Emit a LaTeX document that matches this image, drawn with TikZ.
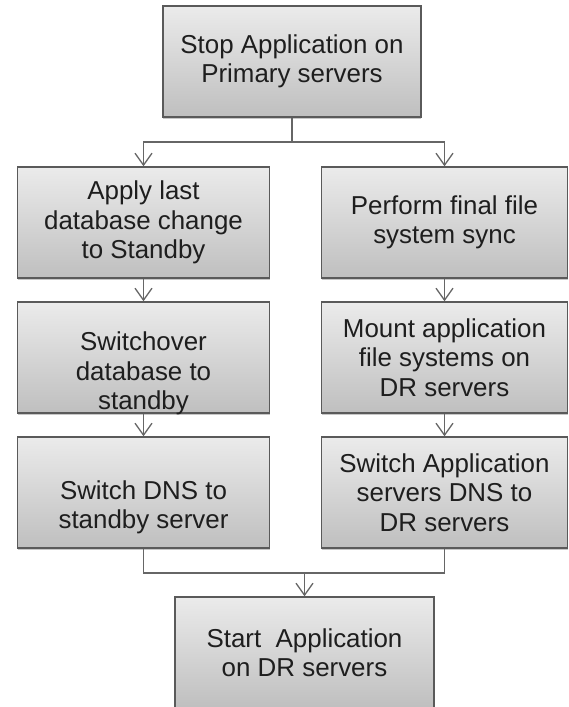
\documentclass[tikz,border=0pt]{standalone}
\usepackage{fontspec}
\setmainfont{Liberation Sans}
\usetikzlibrary{arrows.meta,shadows,positioning}
\definecolor{boxtop}{HTML}{EBEBEB}
\definecolor{boxbot}{HTML}{BFBFBF}
\definecolor{boxedge}{HTML}{5A5A5A}
\definecolor{lineclr}{HTML}{666666}
\definecolor{txtclr}{HTML}{1E1E1E}
\tikzset{
  flowbox/.style={draw=boxedge, line width=1.4pt, top color=boxtop, bottom color=boxbot,
    rectangle, minimum height=111pt, inner sep=0pt, align=center,
    font=\fontsize{25.9}{29.5}\selectfont, text=txtclr,
    drop shadow={shadow xshift=0pt, shadow yshift=-2pt, opacity=0.22, fill=black}},
  flowtxt/.style={align=center, inner sep=0pt, font=\fontsize{25.9}{29.5}\selectfont, text=txtclr},
  conn/.style={draw=lineclr, line width=1.3pt},
  arr/.style={conn, -{Straight Barb[length=12pt,width=17pt,line width=1.3pt]}}
}
\begin{document}
\begin{tikzpicture}[x=1pt,y=1pt]
\useasboundingbox (0,0) rectangle (568,-707);
% boxes
\node[flowbox, minimum width=258pt] (top) at (292,-61.5) {Stop Application on\\Primary servers};
\node[flowbox, minimum width=252pt] (l1) at (143.5,-222.5) {Apply last\\database change\\to Standby};
\node[flowbox, minimum width=252pt] (l2) at (143.5,-357.5) {};
\node[flowbox, minimum width=252pt] (l3) at (143.5,-492.5) {};
\node[flowbox, minimum width=246pt] (r1) at (444.5,-222.5) {Perform final file\\system sync};
\node[flowbox, minimum width=246pt] (r2) at (444.5,-357.5) {Mount application\\file systems on\\DR servers};
\node[flowbox, minimum width=246pt] (r3) at (444.5,-492.5) {Switch Application\\servers DNS to\\DR servers};
\node[flowbox, minimum width=259pt] (bot) at (304.5,-652.5) {Start\ \ Application\\on DR servers};
% shifted texts of left column
\node[flowtxt] (l2t) at ([yshift=-16pt]l2.center) {Switchover\\database to\\standby};
\node[flowtxt] (l3t) at ([yshift=-15pt]l3.center) {Switch DNS to\\standby server};
% top split
\coordinate (split) at (292,-142);
\draw[conn] (top.south) -- (split);
\draw[arr] (split) -| (l1.north);
\draw[arr] (split) -| (r1.north);
% column arrows
\draw[arr] (l1.south) -- (l2.north);
\draw[arr] (l2.south) -- (l3.north);
\draw[arr] (r1.south) -- (r2.north);
\draw[arr] (r2.south) -- (r3.north);
% merge
\coordinate (mergeL) at (143.5,-573);
\coordinate (mergeR) at (444.5,-573);
\coordinate (mergeC) at (304.5,-573);
\draw[conn] (l3.south) -- (mergeL) -- (mergeR) -- (r3.south);
\draw[arr] (mergeC) -- (bot.north);
\end{tikzpicture}
\end{document}
